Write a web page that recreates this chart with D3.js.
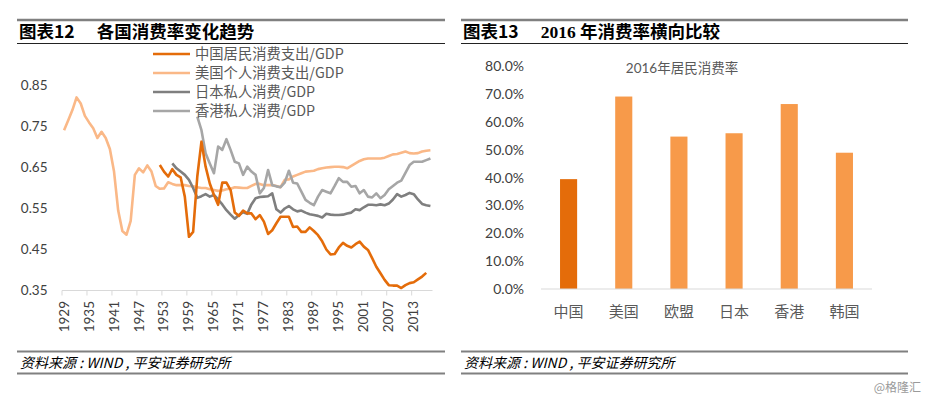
<!DOCTYPE html>
<html><head><meta charset="utf-8">
<script src="https://cdn.jsdelivr.net/npm/d3@7"></script>
<style>
body{margin:0;background:#fff;}
svg{display:block;}
text{font-family:Lato,"Noto Sans CJK SC",sans-serif;}
</style></head>
<body>
<svg id="c" width="926" height="402"></svg>
<script>
// ---------- Data ----------
const seriesNames = ["中国居民消费支出/GDP","美国个人消费支出/GDP","日本私人消费/GDP","香港私人消费/GDP"];
const chinaStart = 1952;
const china = [0.656,0.640,0.628,0.646,0.632,0.626,0.579,0.481,0.493,0.628,0.713,0.652,0.611,0.583,0.559,0.613,0.613,0.595,
  0.540,0.532,0.545,0.538,0.538,0.524,0.534,0.518,0.488,0.497,0.514,0.530,0.530,0.530,0.505,0.506,0.493,0.493,0.504,0.495,
  0.485,0.470,0.450,0.438,0.439,0.455,0.466,0.459,0.455,0.463,0.469,0.457,0.449,0.429,0.408,0.392,0.376,0.363,0.362,0.362,
  0.356,0.363,0.368,0.370,0.377,0.384,0.393];
const usStart = 1929;
const us = [0.741,0.765,0.790,0.821,0.806,0.776,0.760,0.746,0.722,0.737,0.722,0.695,0.640,0.545,0.495,0.486,0.520,0.632,
  0.648,0.638,0.655,0.640,0.605,0.598,0.599,0.614,0.610,0.607,0.607,0.607,0.605,0.604,0.602,0.600,0.600,0.597,0.595,0.593,
  0.594,0.597,0.598,0.602,0.601,0.600,0.600,0.605,0.610,0.610,0.607,0.607,0.607,0.605,0.602,0.620,0.621,0.628,0.632,0.636,
  0.640,0.641,0.642,0.646,0.648,0.650,0.651,0.652,0.652,0.651,0.648,0.654,0.660,0.666,0.670,0.672,0.672,0.672,0.672,0.674,
  0.678,0.682,0.683,0.686,0.689,0.685,0.684,0.685,0.689,0.691,0.692];
const japanStart = 1955;
const japan = [0.660,0.648,0.640,0.632,0.620,0.600,0.576,0.580,0.585,0.579,0.583,0.572,0.560,0.546,0.535,0.525,0.534,0.541,
  0.537,0.560,0.575,0.578,0.579,0.580,0.587,0.548,0.540,0.550,0.556,0.548,0.543,0.545,0.540,0.536,0.534,0.532,0.528,0.537,
  0.535,0.534,0.534,0.535,0.538,0.540,0.548,0.546,0.553,0.559,0.559,0.558,0.560,0.558,0.562,0.572,0.585,0.579,0.583,0.588,
  0.585,0.572,0.561,0.558,0.556];
const hkStart = 1961;
const hk = [0.774,0.741,0.685,0.660,0.636,0.701,0.693,0.719,0.693,0.664,0.660,0.632,0.652,0.640,0.632,0.587,0.600,0.644,
  0.607,0.604,0.602,0.613,0.642,0.613,0.611,0.591,0.571,0.564,0.558,0.579,0.595,0.591,0.587,0.605,0.624,0.615,0.615,0.603,
  0.605,0.587,0.595,0.579,0.577,0.587,0.575,0.583,0.597,0.605,0.613,0.618,0.637,0.656,0.664,0.664,0.664,0.668,0.672];
const xTickLabels = ["1929","1935","1941","1947","1953","1959","1965","1971","1977","1983","1989","1995","2001","2007","2013"];
const yTicksLeft = [0.35,0.45,0.55,0.65,0.75,0.85];

const barCategories = ["中国","美国","欧盟","日本","香港","韩国"];
const barValues = [0.395,0.692,0.548,0.560,0.665,0.490];
const yTicksRight = [0,0.1,0.2,0.3,0.4,0.5,0.6,0.7,0.8];
const barTitle = "2016年居民消费率";

// ---------- Styles ----------
const lineColors = ["#E46C0A","#FAB887","#7F7F7F","#A6A6A6"];
const svg = d3.select("#c");

// ---------- Headers & footers ----------
function frame(x0, x1, titleA, titleB, serifB){
  svg.append("line").attr("x1",x0).attr("x2",x1).attr("y1",20).attr("y2",20).attr("stroke","#808080").attr("stroke-width",2.5);
  svg.append("line").attr("x1",x0).attr("x2",x1).attr("y1",43.5).attr("y2",43.5).attr("stroke","#222").attr("stroke-width",1.2);
  const t = svg.append("text").attr("x",x0+2).attr("y",38).attr("font-size",17.5).attr("font-weight","bold").attr("fill","#000")
    .style("font-family",'"Noto Sans CJK SC",sans-serif');
  t.append("tspan").text(titleA);
  const tb = t.append("tspan").attr("dx",22).text(titleB[0]);
  if (serifB) tb.style("font-family",'"Liberation Serif",serif');
  t.append("tspan").text(titleB[1]);
  svg.append("line").attr("x1",x0).attr("x2",x1).attr("y1",351.5).attr("y2",351.5).attr("stroke","#808080").attr("stroke-width",2);
  svg.append("line").attr("x1",x0).attr("x2",x1).attr("y1",373.5).attr("y2",373.5).attr("stroke","#808080").attr("stroke-width",2);
  svg.append("text").attr("x",x0+3).attr("y",368).attr("font-size",14).attr("font-style","italic").attr("fill","#000")
    .style("font-family",'"Noto Sans CJK SC",sans-serif')
    .text("资料来源 : WIND , 平安证券研究所");
}
frame(17, 445, "图表12", ["各国消费率变化趋势",""], false);
frame(461, 908, "图表13", ["2016 ","年消费率横向比较"], true);

svg.append("text").attr("x",921).attr("y",392).attr("text-anchor","end").attr("font-size",12).attr("fill","#9a9a9a")
  .style("font-family",'"Noto Sans CJK SC",sans-serif').text("@格隆汇");

// ---------- Left line chart ----------
const x = d3.scaleLinear().domain([1928.5, 2017.5]).range([62, 432.5]);
const y = d3.scaleLinear().domain([0.35, 0.85]).range([290.5, 85.5]);

const gL = svg.append("g");
gL.append("line").attr("x1",x(1928.5)).attr("x2",x(2017.5)).attr("y1",290.5).attr("y2",290.5).attr("stroke","#D9D9D9").attr("stroke-width",1.2);
xTickLabels.forEach(lbl=>{
  const yr = +lbl;
  gL.append("line").attr("x1",x(yr-0.5)).attr("x2",x(yr-0.5)).attr("y1",290.5).attr("y2",295.5).attr("stroke","#D9D9D9");
  gL.append("text").attr("transform",`translate(${x(yr)+4.5},301) rotate(-90)`).attr("text-anchor","end")
    .attr("font-size",13.5).attr("fill","#404040").text(lbl);
});
yTicksLeft.forEach(v=>{
  gL.append("text").attr("x",47.5).attr("y",y(v)).attr("dy","0.35em").attr("text-anchor","end")
    .attr("font-size",13.5).attr("fill","#404040").text(v.toFixed(2));
});

const series = [
  {start:usStart, vals:us, c:lineColors[1]},
  {start:hkStart, vals:hk, c:lineColors[3]},
  {start:japanStart, vals:japan, c:lineColors[2]},
  {start:chinaStart, vals:china, c:lineColors[0]}
];
const lineGen = d3.line().x(d=>x(d[0])).y(d=>y(d[1]));
series.forEach(s=>{
  const pts = s.vals.map((v,i)=>[s.start+i, v]);
  gL.append("path").attr("d",lineGen(pts)).attr("fill","none").attr("stroke",s.c).attr("stroke-width",2.6)
    .attr("stroke-linejoin","round");
});

// legend
seriesNames.forEach((n,i)=>{
  const ly = 54 + i*19;
  gL.append("line").attr("x1",153).attr("x2",190).attr("y1",ly).attr("y2",ly).attr("stroke",lineColors[i]).attr("stroke-width",2.6);
  gL.append("text").attr("x",195).attr("y",ly).attr("dy","0.36em").attr("font-size",14.3).attr("fill","#595959")
    .style("font-family",'"Noto Sans CJK SC",sans-serif').text(n);
});

// ---------- Right bar chart ----------
const xb = d3.scaleBand().domain(barCategories).range([541, 872]).paddingInner(0.69).paddingOuter(0.345);
const yb = d3.scaleLinear().domain([0, 0.8]).range([289, 66.5]);
const gR = svg.append("g");
const fmt = d3.format(".1%");
yTicksRight.forEach(v=>{
  gR.append("text").attr("x",524).attr("y",yb(v)).attr("dy","0.35em").attr("text-anchor","end")
    .attr("font-size",14).attr("fill","#404040").text(fmt(v));
});
gR.selectAll("rect").data(barValues).enter().append("rect")
  .attr("x",(d,i)=>xb(barCategories[i])).attr("width",xb.bandwidth())
  .attr("y",d=>yb(d)).attr("height",d=>yb(0)-yb(d))
  .attr("fill",(d,i)=>i===0?"#E46C0A":"#F79A4A");
gR.append("line").attr("x1",541).attr("x2",872).attr("y1",289).attr("y2",289).attr("stroke","#D9D9D9").attr("stroke-width",1.2);
barCategories.forEach(c=>{
  gR.append("text").attr("x",xb(c)+xb.bandwidth()/2).attr("y",312).attr("dy","0.35em").attr("text-anchor","middle")
    .attr("font-size",15).attr("fill","#595959").style("font-family",'"Noto Sans CJK SC",sans-serif').text(c);
});
gR.append("text").attr("x",682).attr("y",68.5).attr("dy","0.35em").attr("text-anchor","middle")
  .attr("font-size",13.5).attr("fill","#595959").text(barTitle);
</script>
</body></html>
